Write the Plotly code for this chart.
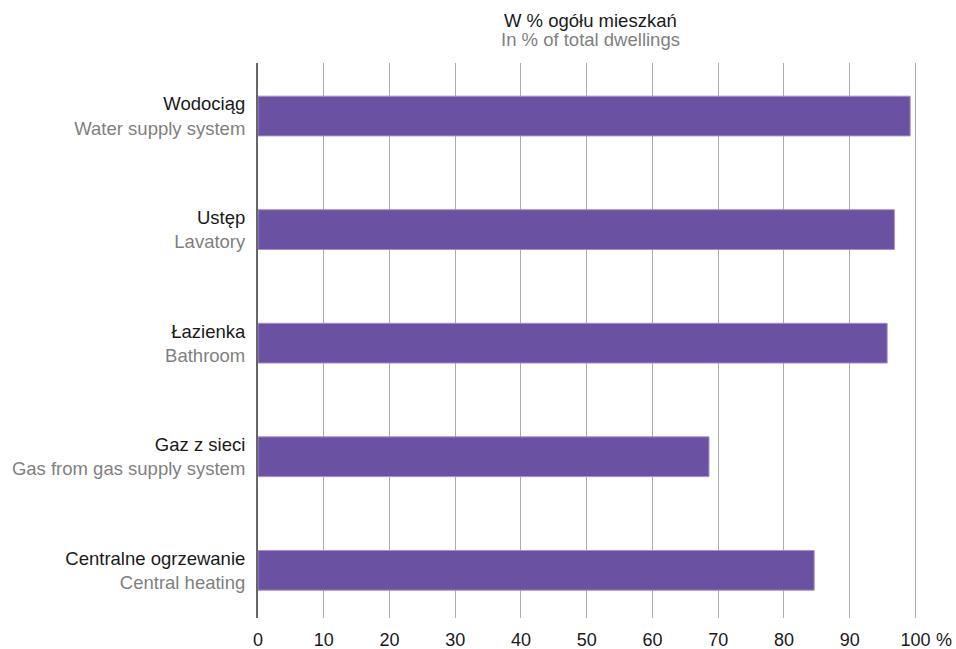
import plotly.graph_objects as go

categories_pl = ["Wodociąg", "Ustęp", "Łazienka", "Gaz z sieci", "Centralne ogrzewanie"]
categories_en = ["Water supply system", "Lavatory", "Bathroom", "Gas from gas supply system", "Central heating"]
values = [99.2, 96.8, 95.7, 68.6, 84.6]
x_ticks = [0, 10, 20, 30, 40, 50, 60, 70, 80, 90, 100]
x_ticktext = ["0", "10", "20", "30", "40", "50", "60", "70", "80", "90", "100"]
title_pl = "W % ogółu mieszkań"
title_en = "In % of total dwellings"

GRAY = "#7f7f7f"
FONT = "Liberation Sans, Arial, sans-serif"
FS = 18.5

labels = [f"{p}<br><span style='color:{GRAY}'>{e}</span>" for p, e in zip(categories_pl, categories_en)]

fig = go.Figure(go.Bar(
    x=values, y=labels, orientation="h", width=0.35,
    marker=dict(color="#6a51a1", line=dict(color="#a48fd0", width=1)),
    hoverinfo="x+y",
))

fig.update_layout(
    width=956, height=649,
    margin=dict(l=258, r=34, t=63, b=31, autoexpand=False),
    paper_bgcolor="white", plot_bgcolor="white",
    font=dict(family=FONT, size=FS, color="#1a1a1a"),
    showlegend=False,
    xaxis=dict(range=[0, 101], tickvals=x_ticks, ticktext=x_ticktext,
               showgrid=True, gridcolor="#ababab", gridwidth=1,
               zeroline=False, showline=False, ticks="",
               ticklabelstandoff=9, automargin=False,
               tickfont=dict(size=18, color="#1a1a1a")),
    yaxis=dict(categoryorder="array", categoryarray=labels,
               range=[4.42, -0.467], showgrid=False, zeroline=False,
               showline=True, linecolor="#666666", linewidth=2,
               ticks="", ticklabelstandoff=7, automargin=False,
               tickfont=dict(size=FS, color="#1a1a1a")),
    annotations=[
        dict(text=title_pl, x=0.5, xref="paper", y=1, yref="paper",
             xanchor="center", yanchor="middle", yshift=43, showarrow=False,
             font=dict(size=FS, color="#1a1a1a", family=FONT)),
        dict(text=title_en, x=0.5, xref="paper", y=1, yref="paper",
             xanchor="center", yanchor="middle", yshift=24, showarrow=False,
             font=dict(size=FS, color=GRAY, family=FONT)),
        dict(text="%", x=100, xref="x", y=0, yref="paper", xanchor="left", yanchor="middle",
             xshift=19, yshift=-22, showarrow=False, font=dict(size=18, color="#1a1a1a", family=FONT)),
    ],
)

fig.write_html("out.html", config={"displayModeBar": False},
               post_script="document.body.style.margin='0';document.body.style.overflow='hidden';")
